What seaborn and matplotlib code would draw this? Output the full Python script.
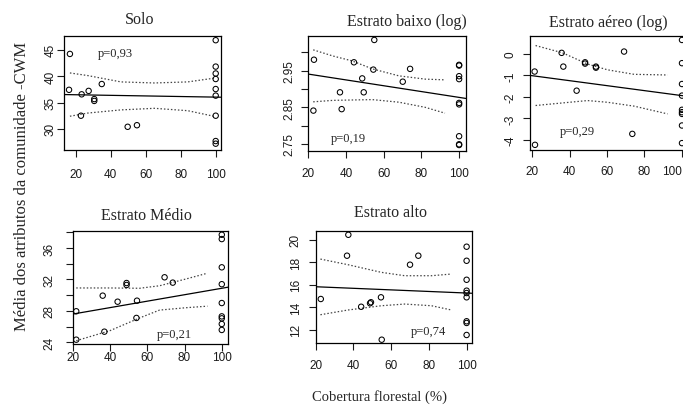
import numpy as np
import pandas as pd
import seaborn as sns
import matplotlib
matplotlib.use("Agg")
import matplotlib.pyplot as plt

W, H = 683, 414

#%% data

# Solo
solo_x = [16.7, 16.2, 23.4, 27.4, 30.6, 30.6, 34.9, 23.0, 49.7, 55.0,
          100, 100, 100, 100, 100, 100, 100, 100, 100]
solo_y = [44.2, 37.4, 36.55, 37.2, 35.65, 35.3, 38.5, 32.5, 30.4, 30.7,
          46.8, 41.8, 40.5, 39.45, 37.55, 36.3, 32.5, 27.7, 27.2]
solo_band_x = [16.7, 26.9, 45.9, 65.0, 84.0, 98.9]
solo_upper = [40.6, 40.1, 38.9, 38.7, 38.9, 39.6]
solo_lower = [32.4, 33.0, 33.6, 33.9, 33.45, 32.4]
solo_fit = (36.58, -0.0056)

# Estrato baixo (log)
baixo_x = [23.0, 55.0, 44.2, 54.5, 74.0, 48.6, 70.1, 36.8, 49.4, 22.7, 37.7,
           100, 100, 100, 100, 100, 100, 100, 100, 100]
baixo_y = [2.980, 3.034, 2.973, 2.953, 2.955, 2.929, 2.920, 2.891, 2.891, 2.841, 2.845,
           2.966, 2.964, 2.935, 2.927, 2.862, 2.858, 2.771, 2.749, 2.747]
baixo_band_x = [22.6, 33.2, 43.1, 54.0, 68.0, 82.0, 92.5]
baixo_upper = [3.007, 2.990, 2.977, 2.955, 2.936, 2.927, 2.925]
baixo_lower = [2.865, 2.869, 2.870, 2.871, 2.864, 2.850, 2.834]
baixo_fit = (2.9567, -0.000796)

# Estrato aereo (log)
aereo_x = [21.4, 35.8, 36.7, 48.3, 48.3, 54.1, 54.1, 69.1, 43.8, 73.5, 21.6,
           100, 100, 100, 100, 100, 100, 100, 100, 100]
aereo_y = [-0.82, 0.05, -0.59, -0.39, -0.45, -0.59, -0.64, 0.11, -1.71, -3.72, -4.23,
           0.65, -0.43, -1.40, -1.94, -2.60, -2.71, -2.79, -3.33, -4.15]
aereo_band_x = [21.9, 36.3, 49.6, 60.3, 74.5, 92.3]
aereo_upper = [0.39, 0.05, -0.47, -0.74, -0.95, -0.98]
aereo_lower = [-2.40, -2.28, -2.17, -2.25, -2.43, -2.79]
aereo_fit = (-0.78, -0.0116)

# Estrato Medio
medio_x = [21.9, 36.1, 44.1, 54.5, 48.9, 48.9, 69.3, 73.7, 21.9, 37.0, 54.2,
           100, 100, 100, 100, 100, 100, 100, 100, 100]
medio_y = [27.95, 29.94, 29.17, 29.3, 31.55, 31.3, 32.28, 31.6, 24.33, 25.35, 27.1,
           37.7, 37.15, 33.55, 31.4, 29.0, 27.3, 27.05, 26.33, 25.57]
medio_band_x = [21.9, 40.0, 55.9, 66.6, 80.7, 92.3]
medio_upper = [30.92, 30.92, 30.88, 31.2, 32.06, 32.8]
medio_lower = [24.2, 25.48, 27.1, 28.1, 28.4, 28.6]
medio_fit = (26.77, 0.0411)

# Estrato alto
alto_x = [22.7, 37.3, 36.6, 44.1, 48.8, 49.3, 54.6, 55.0, 70.0, 74.4,
          100, 100, 100, 100, 100, 100, 100, 100, 100]
alto_y = [14.73, 20.44, 18.58, 14.04, 14.35, 14.44, 14.88, 11.11, 17.78, 18.58,
          19.38, 18.13, 16.44, 15.47, 15.26, 14.88, 12.75, 12.6, 11.53]
alto_band_x = [22.5, 37.1, 54.8, 67.2, 81.4, 92.0]
alto_upper = [18.28, 17.78, 17.1, 16.8, 16.8, 16.95]
alto_lower = [13.33, 13.75, 14.13, 14.28, 14.13, 13.75]
alto_fit = (15.96, -0.0070)

xticks = [20, 40, 60, 80, 100]

#%%

sns.set_style("ticks", {"axes.edgecolor": "black"})
plt.rcParams["font.family"] = ["Liberation Sans", "DejaVu Sans"]
serif = ["Liberation Serif", "DejaVu Serif"]

fig = plt.figure(figsize=(W / 100, H / 100), dpi=100)


def panel(box, xs, ys, band_x, upper, lower, fit, xlim, ylim, yticks, ylabels,
          ptext, ppos, xpad, ypad):
    l, t, r, b = box
    ax = fig.add_axes([l / W, 1 - b / H, (r - l) / W, (b - t) / H])
    sns.scatterplot(x=xs, y=ys, ax=ax, marker="o", s=15, facecolor="none",
                    edgecolor="black", linewidth=0.75, zorder=3)
    for yy in (upper, lower):
        sns.lineplot(x=band_x, y=yy, ax=ax, color="#444444",
                     linestyle=(0, (1.2, 1.6)), linewidth=0.9)
    ax.axline((0, fit[0]), slope=fit[1], color="black", linewidth=0.9)
    ax.set_xlim(xlim)
    ax.set_ylim(ylim)
    ax.set_xticks(xticks)
    ax.set_xticklabels([str(v) for v in xticks])
    ax.set_yticks(yticks)
    ax.set_yticklabels(ylabels, rotation=90, va="center")
    ax.tick_params(length=4.7, width=0.8, labelsize=8.5, colors="#1a1a1a")
    ax.tick_params(axis="x", pad=xpad)
    ax.tick_params(axis="y", pad=ypad)
    for s in ax.spines.values():
        s.set_linewidth(0.9)
    ax.text(ppos[0], ppos[1], ptext, ha="center", va="center",
            fontsize=9, family=serif)
    return ax


panel((64.3, 37.3, 220.7, 150.7), solo_x, solo_y, solo_band_x, solo_upper, solo_lower,
      solo_fit, (13.49, 102.86), (26.06, 47.54), [30, 35, 40, 45],
      ["30", "35", "40", "45"], "p=0,93", (42.8, 44.4), 8.5, 0.6)

panel((307.7, 37.3, 465.7, 151.5), baixo_x, baixo_y, baixo_band_x, baixo_upper, baixo_lower,
      baixo_fit, (19.68, 103.5), (2.732, 3.044),
      [2.75, 2.80, 2.85, 2.90, 2.95, 3.00], ["2.75", "", "2.85", "", "2.95", ""],
      "p=0,19", (41.2, 2.765), 7.2, 4.2)

ax_aereo = panel((530, 37.3, 687, 151), aereo_x, aereo_y, aereo_band_x, aereo_upper,
                 aereo_lower, aereo_fit, (18.93, 102.67), (-4.47, 0.82),
                 [-4, -3, -2, -1, 0], ["-4", "-3", "-2", "-1", "0"],
                 "p=0,29", (44.2, -3.6), 6.0, 4.9)
# panel runs off the right edge; keep its last tick label inside the figure
ax_aereo.get_xticklabels()[-1].set_ha("right")

panel((72.7, 232.3, 228.3, 345), medio_x, medio_y, medio_band_x, medio_upper, medio_lower,
      medio_fit, (20.5, 103.5), (23.78, 38.14), [24, 26, 28, 30, 32, 34, 36, 38],
      ["24", "", "28", "", "32", "", "36", ""], "p=0,21", (74.8, 25.05), 0.0, 7.8)

panel((315.7, 232.3, 471.7, 344.3), alto_x, alto_y, alto_band_x, alto_upper, alto_lower,
      alto_fit, (20.05, 102.7), (10.79, 20.75), [12, 14, 16, 18, 20],
      ["12", "14", "16", "18", "20"], "p=0,74", (79.7, 11.9), 6.8, 5.4)

titles = [("Solo", 140, 24), ("Estrato baixo (log)", 406.7, 26),
          ("Estrato aéreo (log)", 608.3, 26.7), ("Estrato Médio", 146.7, 220),
          ("Estrato alto", 390, 216.7)]
for txt, cx, by in titles:
    fig.text(cx / W, 1 - by / H, txt, ha="center", va="baseline",
             fontsize=11.5, family=serif)

fig.text(22 / W, 1 - 186 / H, "Média dos atributos da comunidade -CWM",
         rotation=90, ha="center", va="center", fontsize=12, family=serif)
fig.text(380 / W, 1 - 397 / H, "Cobertura florestal (%)",
         ha="center", va="center", fontsize=10.5, family=serif)

fig.savefig("out.png", dpi=100)
